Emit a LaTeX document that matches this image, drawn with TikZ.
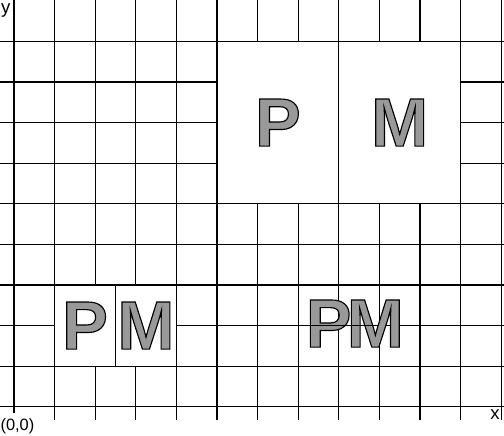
\documentclass[tikz,border=0pt]{standalone}
\usepackage{fontspec}
\setmainfont{Liberation Sans}
\definecolor{lettergray}{RGB}{153,153,153}
\newcommand{\outlined}[1]{\special{pdf:literal direct 2 Tr 0.8 w 0 G}#1\special{pdf:literal direct 0 Tr}}

\begin{document}
\begin{tikzpicture}[line width=0.8pt,
  bigbox/.style={draw,fill=white,minimum width=3cm,minimum height=4cm,inner sep=0pt},
  smallbox/.style={draw,fill=white,minimum width=1.5cm,minimum height=2cm,inner sep=0pt},
  letter/.style={text=lettergray,font=\fontsize{48}{48}\selectfont\bfseries,inner sep=0pt},
  axislabel/.style={font=\fontsize{13}{14}\selectfont,inner sep=0pt}]
\useasboundingbox (-0.345,-0.714) rectangle (12.07,10.02);
% grid
\draw (0,-0.15) -- (0,10.1);
\foreach \gx in {1,...,12}
  \draw (\gx,-0.32) -- (\gx,10.1);
\foreach \gy in {0,...,9}
  \draw (-0.4,\gy) -- (12.1,\gy);
\node[axislabel,anchor=base west] (ylab) at (-0.33,9.68) {y};
\node[axislabel,anchor=base west] (xlab) at (11.72,-0.32) {x};
\node[axislabel,font=\fontsize{11.5}{12}\selectfont,anchor=base west] (origin) at (-0.345,-0.59) {(0,0)};
% large boxes
\node[bigbox,letter] (bigP) at (6.5,7) {\outlined{P}};
\node[bigbox,letter] (bigM) at (9.5,7) {\outlined{M}};
\draw (bigM.south west) ++(0,0.03) -- ([yshift=0.03cm]bigM.south east);
% small boxes
\node[smallbox,letter] (smallP) at (1.75,2) {\outlined{P}};
\node[smallbox,letter] (smallM) at (3.25,2) {\outlined{M}};
% overlapping letters
\node[letter] (looseP) at (7.75,2.05) {\outlined{P}};
\node[letter] (looseM) at (8.9,2.05) {\outlined{M}};
\coordinate (barL) at (7,2);
\coordinate (barR) at (8.96,2);
\draw (barL) -- (barR);
\end{tikzpicture}
\end{document}
